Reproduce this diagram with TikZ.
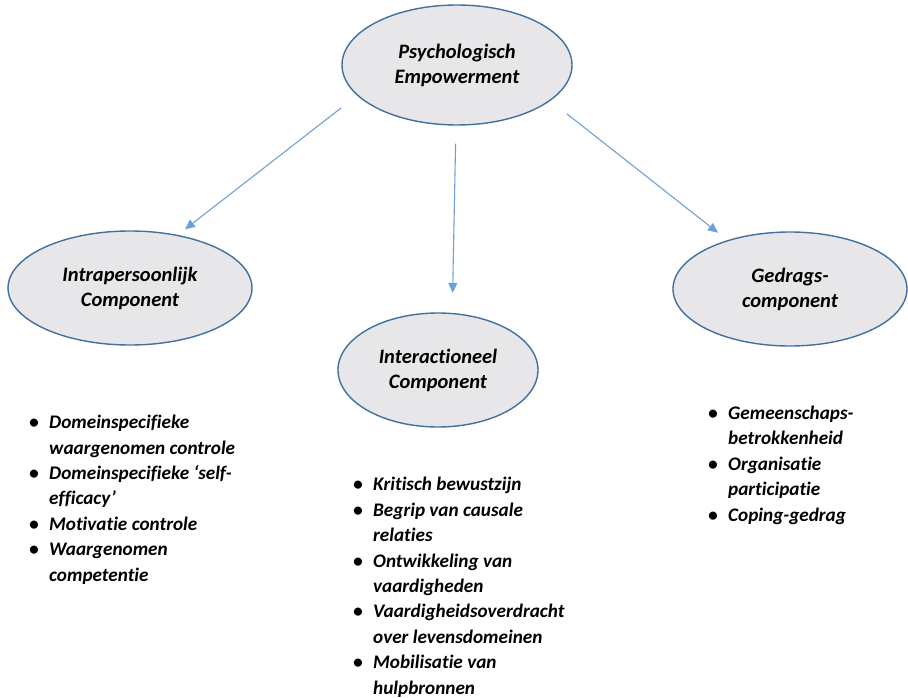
\documentclass[tikz,border=0pt]{standalone}
\usepackage{fontspec}
\setmainfont{Carlito}[Ligatures=NoCommon]
\usetikzlibrary{shapes.geometric,arrows.meta}

\definecolor{ovaalrand}{RGB}{65,113,156}
\definecolor{ovaalvul}{RGB}{231,231,233}
\definecolor{pijlblauw}{RGB}{110,160,215}

\newcommand{\punt}{\makebox[20pt][l]{\textbullet}}
\newcommand{\inspring}{\hspace*{20pt}}

\begin{document}
\begin{tikzpicture}[
        x=1pt, y=-1pt,
        ovaal/.style={ellipse, draw=ovaalrand, line width=1.4pt, fill=ovaalvul,
            align=center, font=\fontsize{20.5}{25}\selectfont\bfseries\itshape},
        lijst/.style={align=left, inner sep=0pt, anchor=base west,
            font=\fontsize{19.2}{25.4}\selectfont\bfseries\itshape},
        pijl/.style={draw=pijlblauw, line width=1.1pt,
            -{Triangle[length=10pt,width=9pt]}},
    ]
    \useasboundingbox (0, 0) rectangle (908, 698);

    \node[ovaal, minimum width=230pt, minimum height=120pt] (psy) at (457, 65)
        {Psychologisch\\Empowerment};
    \node[ovaal, minimum width=244pt, minimum height=114pt] (intra) at (130, 288)
        {Intrapersoonlijk\\Component};
    \node[ovaal, minimum width=200pt, minimum height=114pt] (inter) at (438, 370)
        {Interactioneel\\Component};
    \node[ovaal, minimum width=234pt, minimum height=114pt] (gedrag) at (790, 289)
        {Gedrags-\\component};

    \draw[pijl, shorten <=20pt, shorten >=9pt] (psy.197) -- (intra.48);
    \draw[pijl, shorten <=18pt, shorten >=20pt] (psy.269) -- (inter.76);
    \draw[pijl, shorten <=21pt, shorten >=12pt] (psy.339.5) -- (gedrag.142.2);

    % opsommingen onder de componenten (base = laatste regel)
    \node[lijst] (lijstintra) at (29, 581) {%
        \punt Domeinspecifieke\\
        \inspring waargenomen controle\\
        \punt Domeinspecifieke ‘self-\\
        \inspring efficacy’\\
        \punt Motivatie controle\\
        \punt Waargenomen\\
        \inspring competentie};
    \node[lijst] (lijstinter) at (353, 694) {%
        \punt Kritisch bewustzijn\\
        \punt Begrip van causale\\
        \inspring relaties\\
        \punt Ontwikkeling van\\
        \inspring vaardigheden\\
        \punt Vaardigheidsoverdracht\\
        \inspring over levensdomeinen\\
        \punt Mobilisatie van\\
        \inspring hulpbronnen};
    \node[lijst] (lijstgedrag) at (708, 521) {%
        \punt Gemeenschaps-\\
        \inspring betrokkenheid\\
        \punt Organisatie\\
        \inspring participatie\\
        \punt Coping-gedrag};
\end{tikzpicture}
\end{document}
